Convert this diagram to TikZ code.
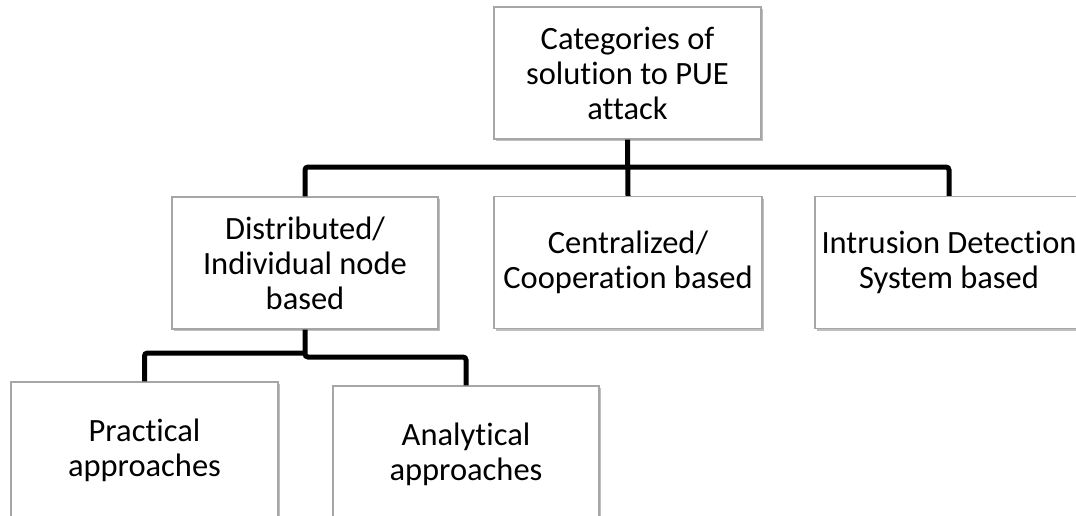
\documentclass[tikz,border=0pt]{standalone}
\usepackage{fontspec}
\setmainfont{Carlito}[Ligatures=NoCommon]
\usetikzlibrary{shadows}
\definecolor{boxedge}{HTML}{A6A6A6}
\begin{document}
\begin{tikzpicture}[x=1pt,y=-1pt,
  catbox/.style={draw=boxedge, line width=1.1pt, fill=white,
    drop shadow={shadow xshift=1.6pt, shadow yshift=-2pt, fill=black, opacity=0.25},
    minimum height=132pt, inner sep=0pt, align=center,
    font=\fontsize{32.5}{35}\selectfont},
  conn/.style={line width=5pt, black, rounded corners=3pt}]
\useasboundingbox (0,0) rectangle (1076,515);
\fill[white] (0,0) rectangle (1076,515);
\clip (0,0) rectangle (1076,515);

% category boxes
\node[catbox, minimum width=267pt] (top)  at (627.5,73)  {Categories of\\solution to PUE\\attack};
\node[catbox, minimum width=266pt] (dist) at (305,263)   {Distributed/\\Individual node\\based};
\node[catbox, minimum width=268pt] (cent) at (628,262.5) {Centralized/\\Cooperation based};
\node[catbox, minimum width=268pt] (ids)  at (949,262.5) {Intrusion Detection\\System based};
\node[catbox, minimum width=267pt, minimum height=136pt] (prac) at (144.5,450) {Practical\\approaches};
\node[catbox, minimum width=266pt, minimum height=136pt] (anal) at (466,454)   {Analytical\\approaches};

% tree connectors
\coordinate (bus)  at (627.5,167);
\coordinate (subL) at (305,353);
\coordinate (subR) at (305,357);
\draw[conn] (top.south) -- (cent.north);
\draw[conn] (dist.north) |- (bus) -| (ids.north);
\draw[conn] (dist.south) -- (subR) -| (anal.north);
\draw[conn] (subL) -| (prac.north);
\end{tikzpicture}
\end{document}
